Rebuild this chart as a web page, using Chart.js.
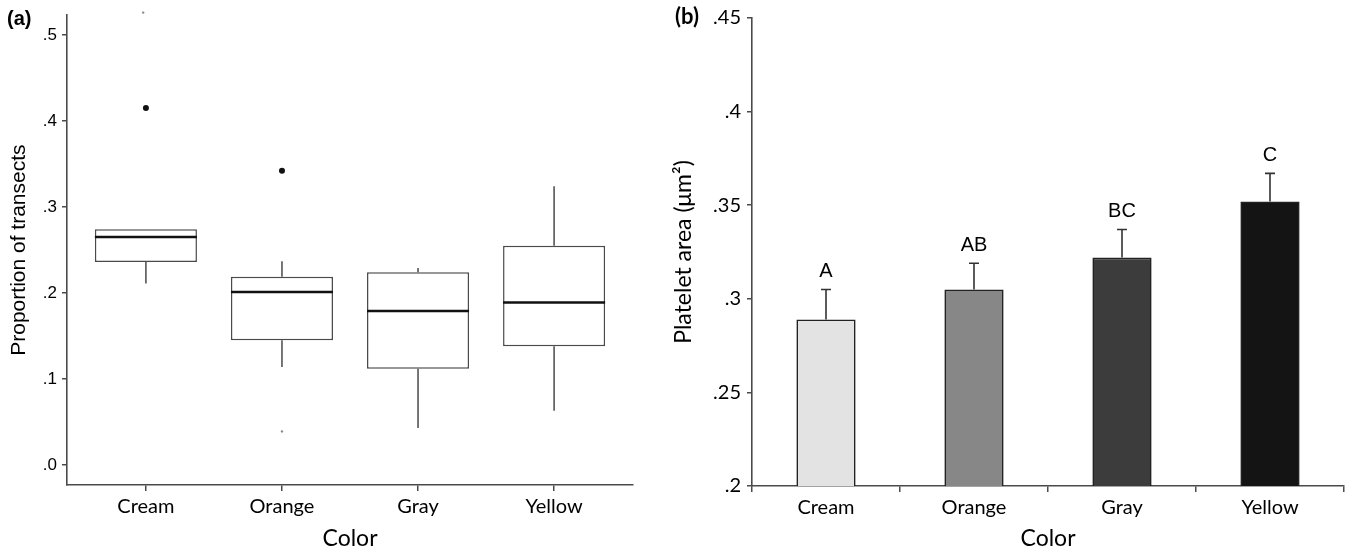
<!DOCTYPE html>
<html><head><meta charset="utf-8">
<script src="https://cdn.jsdelivr.net/npm/chart.js@4.4.0/dist/chart.umd.min.js"></script>
<style>
html,body{margin:0;padding:0;background:#fff;}
#wrap{position:relative;width:1346px;height:554px;overflow:hidden;}
#ca{position:absolute;left:0;top:0;}
#cb{position:absolute;left:650px;top:0;}
</style></head><body>
<div id="wrap"><canvas id="ca" width="650" height="554"></canvas><canvas id="cb" width="696" height="554"></canvas></div>
<script>
// ---------- data ----------
const categories = ['Cream', 'Orange', 'Gray', 'Yellow'];

// panel (a): box plot of proportion of transects
const boxQ1 = [0.236, 0.145, 0.112, 0.138];
const boxQ3 = [0.274, 0.219, 0.224, 0.255];
const boxMedian = [0.265, 0.201, 0.179, 0.189];
const whiskerLow = [0.211, 0.114, 0.043, 0.063];
const whiskerHigh = [0.274, 0.237, 0.229, 0.324];
const outlierCat = [0, 1];
const outlierVal = [0.415, 0.342];
const extremeCat = [-0.02, 1];
const extremeVal = [0.526, 0.039];
const yTicksA = [0, 0.1, 0.2, 0.3, 0.4, 0.5];

// panel (b): platelet area means with SE
const meanArea = [0.289, 0.305, 0.322, 0.352];
const seArea = [0.016, 0.014, 0.015, 0.015];
const groupLetters = ['A', 'AB', 'BC', 'C'];
const barColors = ['#e3e3e3', '#878787', '#3c3c3c', '#141414'];
const yTicksB = [0.2, 0.25, 0.3, 0.35, 0.4, 0.45];

// ---------- shared styles ----------
const AX = '#4a4a4a';
const axisGrid = (len) => ({drawOnChartArea: false, drawTicks: true, tickLength: len, color: AX, lineWidth: 1.5, offset: false});
const axisBorder = {display: true, color: AX, width: 1.6};

// ---------- panel (a) ----------
const boxExtras = {
  id: 'boxExtras',
  afterDatasetsDraw(chart) {
    const {ctx, scales: {y}} = chart;
    const meta = chart.getDatasetMeta(0);
    ctx.save();
    categories.forEach((c, i) => {
      const bar = meta.data[i];
      const px = bar.x, half = bar.width / 2;
      ctx.strokeStyle = '#4a4a4a'; ctx.lineWidth = 1.5;
      ctx.beginPath();
      ctx.moveTo(px, y.getPixelForValue(boxQ3[i])); ctx.lineTo(px, y.getPixelForValue(whiskerHigh[i]));
      ctx.moveTo(px, y.getPixelForValue(boxQ1[i])); ctx.lineTo(px, y.getPixelForValue(whiskerLow[i]));
      ctx.stroke();
      const my = y.getPixelForValue(boxMedian[i]);
      ctx.strokeStyle = '#111'; ctx.lineWidth = 2.5;
      ctx.beginPath(); ctx.moveTo(px - half, my); ctx.lineTo(px + half, my); ctx.stroke();
    });
    ctx.restore();
  },
  afterDraw(chart) {
    const ctx = chart.ctx;
    ctx.save();
    ctx.font = 'bold 20px "Liberation Sans", Arial, sans-serif';
    ctx.fillStyle = '#000'; ctx.textBaseline = 'middle'; ctx.textAlign = 'left';
    ctx.fillText('(a)', 7, 19);
    ctx.restore();
  }
};

new Chart(document.getElementById('ca'), {
  type: 'bar',
  data: {
    datasets: [
      {
        type: 'bar',
        data: categories.map((c, i) => ({x: i, y: [boxQ1[i], boxQ3[i]]})),
        backgroundColor: '#ffffff', borderColor: '#4a4a4a', borderWidth: 1.5, borderSkipped: false,
        barPercentage: 0.75, categoryPercentage: 1, order: 2
      },
      {
        type: 'scatter',
        data: outlierCat.map((c, i) => ({x: c, y: outlierVal[i]})),
        pointRadius: 3, backgroundColor: '#111', borderWidth: 0, order: 1
      },
      {
        type: 'scatter',
        data: extremeCat.map((c, i) => ({x: c, y: extremeVal[i]})),
        pointRadius: 1.2, backgroundColor: '#888', borderWidth: 0, order: 1, clip: false
      }
    ]
  },
  options: {
    responsive: false, animation: false, devicePixelRatio: 1,
    layout: {padding: {left: 0, top: 15, right: 17, bottom: 0}},
    plugins: {legend: {display: false}, tooltip: {enabled: false}},
    scales: {
      x: {
        type: 'linear', min: -0.58, max: 3.58, offset: false,
        afterBuildTicks: s => { s.ticks = categories.map((c, i) => ({value: i})); },
        afterFit: s => { s.height = 69; },
        ticks: {callback: v => categories[v], font: {family: 'Lato', size: 20}, color: '#000', padding: 4, autoSkip: false, maxRotation: 0},
        grid: axisGrid(6), border: axisBorder,
        title: {display: true, text: 'Color', font: {family: 'Lato', size: 23}, color: '#000', padding: {top: 0, bottom: 2}}
      },
      y: {
        type: 'linear', min: -0.0233, max: 0.523,
        afterBuildTicks: s => { s.ticks = yTicksA.map(v => ({value: v})); },
        afterFit: s => { s.width = 67; },
        ticks: {callback: v => v.toFixed(1).replace(/^0/, ''), font: {family: 'Liberation Sans', size: 17}, color: '#000', padding: 5},
        grid: axisGrid(5), border: axisBorder,
        title: {display: true, text: 'Proportion of transects', font: {family: 'Liberation Sans', size: 21}, color: '#000', padding: {top: 7, bottom: 0}}
      }
    }
  },
  plugins: [boxExtras]
});

// ---------- panel (b) ----------
const barExtras = {
  id: 'barExtras',
  afterDatasetsDraw(chart) {
    const {ctx, scales: {y}} = chart;
    const meta = chart.getDatasetMeta(0);
    ctx.save();
    meanArea.forEach((m, i) => {
      const px = meta.data[i].x;
      const yb = y.getPixelForValue(m);
      const yt = y.getPixelForValue(m + seArea[i]);
      ctx.strokeStyle = '#333'; ctx.lineWidth = 1.6;
      ctx.beginPath();
      ctx.moveTo(px, yb); ctx.lineTo(px, yt);
      ctx.moveTo(px - 5, yt); ctx.lineTo(px + 5, yt);
      ctx.stroke();
      ctx.font = '20px "Liberation Sans", Arial, sans-serif';
      ctx.fillStyle = '#000'; ctx.textAlign = 'center'; ctx.textBaseline = 'middle';
      ctx.fillText(groupLetters[i], px, yt - 18);
    });
    ctx.restore();
  },
  afterDraw(chart) {
    const ctx = chart.ctx;
    ctx.save();
    ctx.font = 'bold 22px Lato, sans-serif';
    ctx.fillStyle = '#000'; ctx.textBaseline = 'middle'; ctx.textAlign = 'left';
    ctx.fillText('(b)', 25, 17);
    ctx.restore();
  }
};

new Chart(document.getElementById('cb'), {
  type: 'bar',
  data: {
    labels: categories,
    datasets: [{
      data: meanArea, backgroundColor: barColors, borderColor: '#222', borderWidth: 1.6,
      borderSkipped: false, barPercentage: 0.4, categoryPercentage: 1
    }]
  },
  options: {
    responsive: false, animation: false, devicePixelRatio: 1,
    layout: {padding: {left: 0, top: 15, right: 2, bottom: 0}},
    plugins: {legend: {display: false}, tooltip: {enabled: false}},
    scales: {
      x: {
        offset: true,
        afterFit: s => { s.height = 68; },
        ticks: {font: {family: 'Lato', size: 20}, color: '#000', padding: 4, autoSkip: false, maxRotation: 0},
        grid: Object.assign(axisGrid(6), {offset: true}), border: axisBorder,
        title: {display: true, text: 'Color', font: {family: 'Lato', size: 23}, color: '#000', padding: {top: 0, bottom: 2}}
      },
      y: {
        min: 0.2, max: 0.45,
        afterBuildTicks: s => { s.ticks = yTicksB.map(v => ({value: v})); },
        afterFit: s => { s.width = 102; },
        ticks: {callback: v => String(parseFloat(v.toFixed(2))).replace(/^0/, ''), font: {family: 'Lato', size: 20}, color: '#000', padding: 6},
        grid: axisGrid(5), border: axisBorder,
        title: {display: true, text: 'Platelet area (μm²)', font: {family: 'Lato', size: 23}, color: '#000', padding: {top: 20, bottom: 0}}
      }
    }
  },
  plugins: [barExtras]
});
</script>
</body></html>
